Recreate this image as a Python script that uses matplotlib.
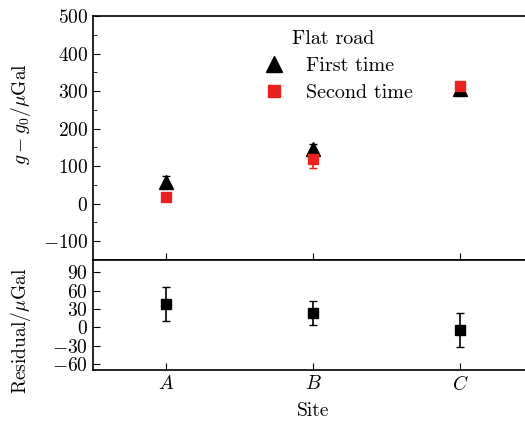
import numpy as np
import matplotlib.pyplot as plt
from matplotlib.lines import Line2D

plt.rcParams['font.family'] = 'serif'
plt.rcParams['font.serif'] = ['cmr10', 'DejaVu Serif']
plt.rcParams['mathtext.fontset'] = 'cm'
plt.rcParams['axes.formatter.use_mathtext'] = True
plt.rcParams['font.size'] = 14

sites = ['$A$', '$B$', '$C$']
first = [58, 145, 307]
first_err = [16, 14, 12]
second = [18, 120, 314]
second_err = [10, 24, 8]
resid = [38, 23, -5]
resid_err = [28, 20, 28]

x = np.arange(len(sites))
red = '#e8231f'

fig = plt.figure(figsize=(5.25, 4.24), dpi=100)
ax1 = fig.add_axes([0.177, 0.387, 0.825, 0.575])
ax2 = fig.add_axes([0.177, 0.127, 0.825, 0.26])

ax1.errorbar(x, first, yerr=first_err, fmt='^', color='black', ms=10,
             capsize=3, elinewidth=1.2)
ax1.errorbar(x, second, yerr=second_err, fmt='s', color=red, ms=7,
             capsize=3, elinewidth=1.2)
ax1.set_xlim(-0.5, 2.45)
ax1.set_ylim(-150, 500)
ax1.set_yticks([-100, 0, 100, 200, 300, 400, 500])
ax1.set_yticks(np.arange(-150, 501, 50), minor=True)
ax1.set_xticks(x)
ax1.set_xticklabels([])
ax1.tick_params(direction='in', which='both', top=False, right=False)
ax1.tick_params(which='major', length=5)
ax1.tick_params(which='minor', length=3)

handles = [Line2D([], [], ls='none', marker='^', color='black', ms=12),
           Line2D([], [], ls='none', marker='s', color=red, ms=9)]
ax1.legend(handles, ['First time', 'Second time'], title='Flat road',
           loc='upper center', bbox_to_anchor=(0.555, 1.01), frameon=False,
           handletextpad=0.6, labelspacing=0.45, borderpad=0.3,
           title_fontsize=14.5, fontsize=14.5)

ax2.errorbar(x, resid, yerr=resid_err, fmt='s', color='black', ms=6.5,
             capsize=3, elinewidth=1.2)
ax2.set_xlim(-0.5, 2.45)
ax2.set_ylim(-70, 110)
ax2.set_yticks([-60, -30, 0, 30, 60, 90])
ax2.set_xticks(x)
ax2.set_xticklabels(sites)
ax2.tick_params(direction='in', which='both', top=False, right=False, length=5)

for ax in (ax1, ax2):
    for s in ax.spines.values():
        s.set_linewidth(1.2)
    ax.spines['right'].set_visible(False)

fig.text(0.04, 0.73, r'$g-g_0$/$\mathrm{\mu}$Gal', rotation=90, ha='center', va='center')
fig.text(0.04, 0.22, r'Residual/$\mathrm{\mu}$Gal', rotation=90, ha='center', va='center')
fig.text(0.597, 0.03, 'Site', ha='center', va='center')

fig.savefig('out.png', dpi=100)
